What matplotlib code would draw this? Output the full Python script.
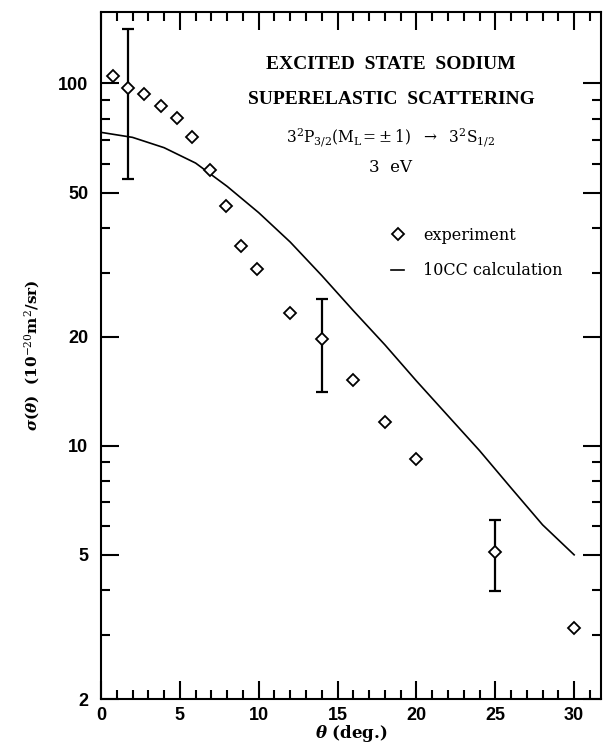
import numpy as np
import matplotlib
matplotlib.use('Agg')
import matplotlib.pyplot as plt
from matplotlib.ticker import FixedLocator, NullFormatter, MultipleLocator

plt.rcParams['mathtext.fontset'] = 'dejavuserif'

# experiment (diamonds)
theta_exp = [0.75, 1.7, 2.75, 3.8, 4.8, 5.8, 6.9, 7.9, 8.9, 9.9, 12, 14, 16, 18, 20, 25, 30]
sigma_exp = [104.8, 97.2, 93.4, 86.7, 80.5, 71.0, 57.6, 45.9, 35.6, 30.7, 23.3, 19.7, 15.2, 11.6, 9.22, 5.10, 3.15]

# error bars (lower, upper limits)
theta_err = [1.7, 14, 25]
sigma_err = [97.2, 19.7, 5.10]
err_lo = [54.4, 14.1, 3.97]
err_hi = [141.8, 25.4, 6.25]

# 10CC calculation
theta_calc = [0, 2, 4, 6, 8, 10, 12, 14, 16, 18, 20, 22, 24, 26, 28, 30]
sigma_calc = [73.3, 71.0, 66.5, 60.3, 52.0, 44.0, 36.5, 29.5, 23.6, 19.0, 15.1, 12.1, 9.7, 7.65, 6.05, 5.0]

yticks = [2, 5, 10, 20, 50, 100]
yminor = [3, 4, 6, 7, 8, 9, 30, 40, 60, 70, 80, 90]

fig = plt.figure(figsize=(6.05, 7.46), dpi=100)
ax = fig.add_axes([0.1669, 0.0630, 0.8264, 0.9209])

ax.plot(theta_calc, sigma_calc, color='black', lw=1.2, label='10CC calculation')
ax.plot(theta_exp, sigma_exp, ls='none', marker='D', ms=6.2, mfc='white',
        mec='black', mew=1.3, label='experiment', zorder=3)
yerr = [np.array(sigma_err) - np.array(err_lo), np.array(err_hi) - np.array(sigma_err)]
ax.errorbar(theta_err, sigma_err, yerr=yerr, fmt='none', ecolor='black',
            elinewidth=1.6, capsize=4, capthick=1.6, zorder=2)

ax.set_yscale('log')
ax.set_xlim(0, 31.7)
ax.set_ylim(2, 157.5)

ax.yaxis.set_major_locator(FixedLocator(yticks))
ax.yaxis.set_minor_locator(FixedLocator(yminor))
ax.yaxis.set_minor_formatter(NullFormatter())
ax.set_yticklabels([str(v) for v in yticks])
ax.xaxis.set_major_locator(MultipleLocator(5))
ax.xaxis.set_minor_locator(MultipleLocator(1))

ax.tick_params(which='both', direction='in', top=True, right=True, width=1.5)
ax.tick_params(which='major', length=13)
ax.tick_params(which='minor', length=6.5)
ax.tick_params(axis='x', which='major', pad=6)
ax.tick_params(axis='y', which='major', pad=9)
for lab in ax.get_xticklabels() + ax.get_yticklabels():
    lab.set_fontfamily('Liberation Sans')
    lab.set_fontweight('bold')
    lab.set_fontsize(13)
for sp in ax.spines.values():
    sp.set_linewidth(1.5)

ax.set_xlabel(r'$\boldsymbol{\theta}$ (deg.)', fontsize=12, fontweight='bold',
              fontfamily='DejaVu Serif', labelpad=-1)
ax.set_ylabel(r'$\boldsymbol{\sigma(\theta)}$  (10$^{-20}$m$^{2}$/sr)', fontsize=11,
              fontweight='bold', fontfamily='DejaVu Serif', labelpad=12)

ax.text(0.58, 0.923, 'EXCITED  STATE  SODIUM', transform=ax.transAxes,
        ha='center', va='center', fontsize=14, fontweight='bold', fontfamily='Liberation Serif')
ax.text(0.58, 0.872, 'SUPERELASTIC  SCATTERING', transform=ax.transAxes,
        ha='center', va='center', fontsize=14, fontweight='bold', fontfamily='Liberation Serif')
ax.text(0.58, 0.818, r'$\mathrm{3^2P_{3/2}(M_L\!=\!\pm1)\ \ \rightarrow\ \ 3^2S_{1/2}}$',
        transform=ax.transAxes, ha='center', va='center', fontsize=11.2)
ax.text(0.58, 0.773, '3  eV', transform=ax.transAxes, ha='center', va='center',
        fontsize=12, fontfamily='DejaVu Serif')

h, l = ax.get_legend_handles_labels()
ax.legend(h[::-1], l[::-1], loc='upper left', bbox_to_anchor=(0.552, 0.708),
          frameon=False, handlelength=0.8, handletextpad=1.2, labelspacing=1.15,
          borderpad=0.4, prop={'family': 'DejaVu Serif', 'size': 11.5})

fig.savefig('out.png', dpi=100)
